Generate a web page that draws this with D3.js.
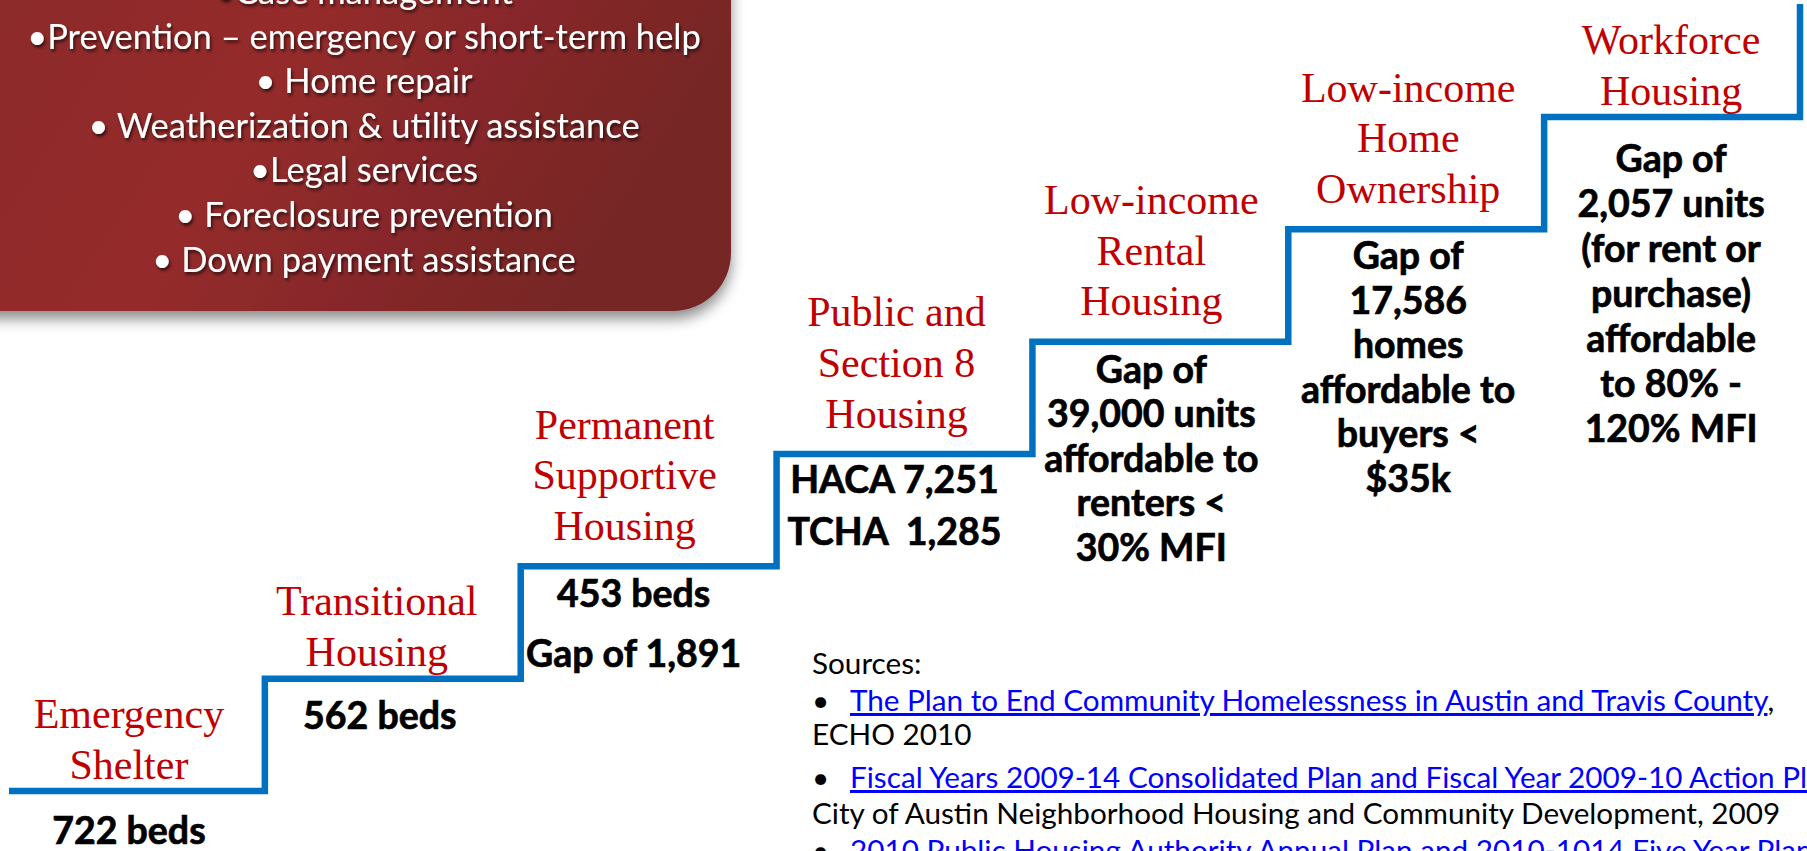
<!DOCTYPE html>
<html>
<head>
<meta charset="UTF-8">
<title>Housing continuum</title>
<script src="https://cdn.jsdelivr.net/npm/d3@7"></script>
<style>
  body { margin: 0; background: #fff; }
  svg { display: block; }
  .title { font-family: "Liberation Serif", serif; fill: #c00000; font-size: 42px; }
  .fig { font-family: Lato, sans-serif; font-weight: bold; fill: #000; stroke: #000; stroke-width: 0.7px; font-size: 37.5px; white-space: pre; }
  .svc { font-family: Lato, sans-serif; fill: #fff; font-size: 34.5px; }
  .src { font-family: Lato, sans-serif; fill: #000; font-size: 29.7px; }
  .src .lnk { fill: #0000ff; text-decoration: underline; }
</style>
</head>
<body>
<div id="chart"></div>
<script>
// steps of the housing continuum, lowest to highest
const stepTitles = [
  ["Emergency", "Shelter"],
  ["Transitional", "Housing"],
  ["Permanent", "Supportive", "Housing"],
  ["Public and", "Section 8", "Housing"],
  ["Low-income", "Rental", "Housing"],
  ["Low-income", "Home", "Ownership"],
  ["Workforce", "Housing"]
];
const stepFigures = [
  ["722 beds"],
  ["562 beds"],
  ["453 beds", "Gap of 1,891"],
  ["HACA 7,251", "TCHA  1,285"],
  ["Gap of", "39,000 units", "affordable to", "renters <", "30% MFI"],
  ["Gap of", "17,586", "homes", "affordable to", "buyers <", "$35k"],
  ["Gap of", "2,057 units", "(for rent or", "purchase)", "affordable", "to 80% -", "120% MFI"]
];
const services = [
  "•Case management",
  "•Prevention – emergency or short-term help",
  "• Home repair",
  "• Weatherization & utility assistance",
  "•Legal services",
  "• Foreclosure prevention",
  "• Down payment assistance"
];
const sources = [
  [{t: "Sources:"}],
  [{t: "•"}, {t: "The Plan to End Community Homelessness in Austin and Travis County", l: 1}, {t: ","}],
  [{t: "ECHO 2010"}],
  [{t: "•"}, {t: "Fiscal Years 2009-14 Consolidated Plan and Fiscal Year 2009-10 Action Plan", l: 1}, {t: ","}],
  [{t: "City of Austin Neighborhood Housing and Community Development, 2009"}],
  [{t: "•"}, {t: "2010 Public Housing Authority Annual Plan and 2010-1014 Five Year Plan", l: 1}]
];

const width = 1807, height = 851;

const svg = d3.select("#chart").append("svg")
  .attr("width", width)
  .attr("height", height);

const defs = svg.append("defs");
const grad = defs.append("linearGradient").attr("id", "boxfill")
  .attr("x1", "0%").attr("y1", "0%").attr("x2", "100%").attr("y2", "30%");
grad.append("stop").attr("offset", "0%").attr("stop-color", "#8a2a2b");
grad.append("stop").attr("offset", "50%").attr("stop-color", "#952a2b");
grad.append("stop").attr("offset", "100%").attr("stop-color", "#772627");

defs.append("filter").attr("id", "boxshadow")
  .attr("x", "-10%").attr("y", "-10%").attr("width", "130%").attr("height", "130%")
  .append("feDropShadow").attr("dx", 0).attr("dy", 8).attr("stdDeviation", 7)
  .attr("flood-color", "#000").attr("flood-opacity", 0.45);
defs.append("filter").attr("id", "txtshadow")
  .append("feDropShadow").attr("dx", 1.5).attr("dy", 2.5).attr("stdDeviation", 1.8)
  .attr("flood-color", "#000").attr("flood-opacity", 0.65);

// services box (top left)
svg.append("rect")
  .attr("x", -70).attr("y", -70)
  .attr("width", 801).attr("height", 381)
  .attr("rx", 58)
  .attr("fill", "url(#boxfill)")
  .attr("filter", "url(#boxshadow)");

svg.append("g").attr("filter", "url(#txtshadow)")
  .selectAll("text").data(services).join("text")
  .attr("class", "svc")
  .attr("x", 364)
  .attr("y", (d, i) => -8 + i * 44.6 + 12)
  .attr("text-anchor", "middle")
  .text(d => d);

// staircase
const x = d3.scaleBand().domain(d3.range(stepTitles.length)).range([9, 1800]);
const y = d3.scaleLinear().domain([0, stepTitles.length - 1]).range([791, 117]);

const pts = [];
stepTitles.forEach((s, i) => {
  pts.push([x(i), y(i)]);
  pts.push([x(i) + x.bandwidth(), y(i)]);
});
pts.push([x(stepTitles.length - 1) + x.bandwidth(), 4]);

svg.append("path")
  .attr("d", d3.line()(pts))
  .attr("fill", "none")
  .attr("stroke", "#0070c0")
  .attr("stroke-width", 6.5)
  .attr("stroke-linejoin", "miter");

// step titles (red serif) above each tread
const titleDx = [-8, -16, -24, -8, -9, -8, -1];
svg.append("g").selectAll("g").data(stepTitles).join("g")
  .each(function(lines, i) {
    const top = y(i) - (12.7 + 64.5 * (lines.length - 1));
    d3.select(this).selectAll("text").data(lines).join("text")
      .attr("class", "title")
      .attr("x", x(i) + x.bandwidth() / 2 + titleDx[i])
      .attr("y", (d, k) => top + k * 50.7 + 14)
      .attr("text-anchor", "middle")
      .text(d => d);
  });

// figures (black bold) below each tread
const figDy = [41, 38, 29, 27, 29, 28, 43];
const figLead = [44, 44, 60, 52, 44.5, 44.5, 45];
const figDx = [-8, -13, -15, -10, -9, -8, -1];
svg.append("g").selectAll("g").data(stepFigures).join("g")
  .each(function(lines, i) {
    d3.select(this).selectAll("text").data(lines).join("text")
      .attr("class", "fig")
      .attr("x", x(i) + x.bandwidth() / 2 + figDx[i])
      .attr("y", (d, k) => y(i) + figDy[i] + k * figLead[i] + 12)
      .attr("text-anchor", "middle")
      .text(d => d);
  });

// sources
const srcY = [664, 701, 735, 778, 814, 851];
const src = svg.append("g").attr("class", "src");
sources.forEach((parts, i) => {
  const t = src.append("text").attr("x", 812).attr("y", srcY[i] + 10);
  parts.forEach(p => {
    const ts = t.append("tspan").text(p.t);
    if (p.l) ts.attr("class", "lnk").attr("x", 850);
  });
});
</script>
</body>
</html>
